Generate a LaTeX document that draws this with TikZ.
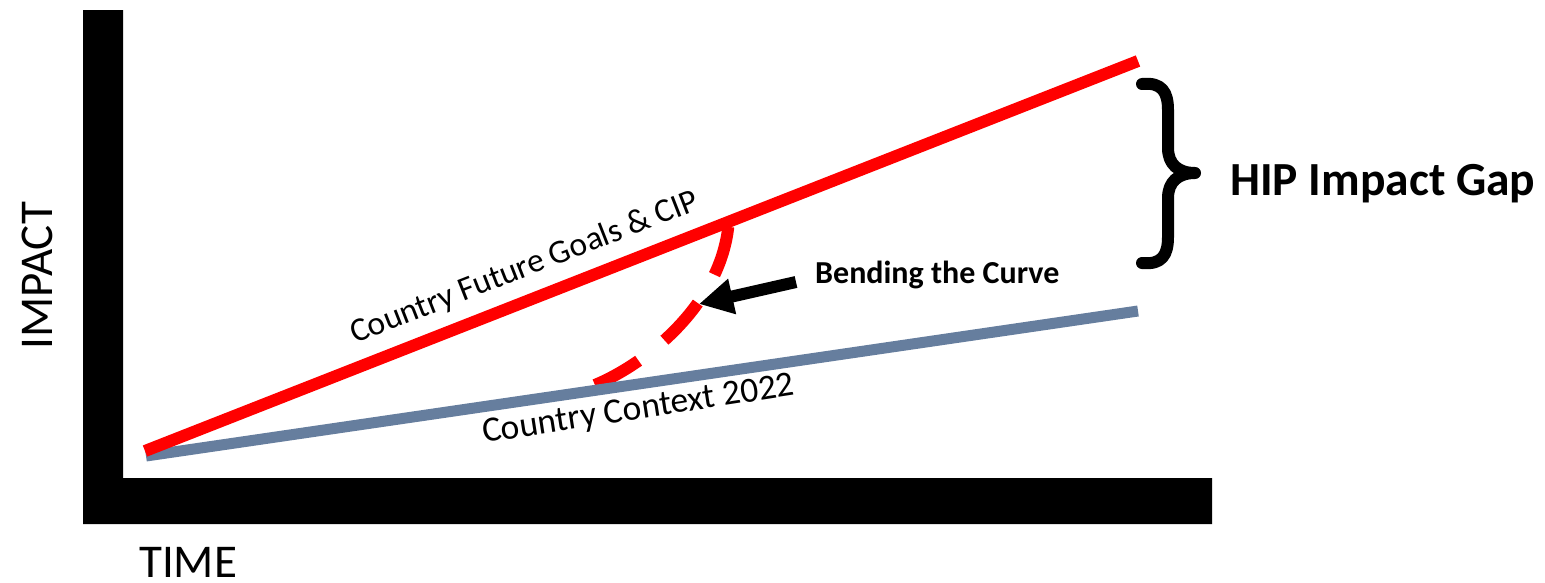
\documentclass[tikz,border=0pt]{standalone}
\usepackage{fontspec}
\setmainfont{Carlito}
\usetikzlibrary{arrows.meta}
\definecolor{goalred}{RGB}{255,0,0}
\definecolor{ctxgray}{RGB}{102,126,158}
\tikzset{
  axisbar/.style={fill=black},
  goalline/.style={draw=goalred, line width=12pt},
  ctxline/.style={draw=ctxgray, line width=11pt},
  bendline/.style={draw=goalred, line width=12pt, dash pattern=on 50pt off 33pt},
  bendarrow/.style={draw=black, line width=12pt, -{Triangle[length=34pt,width=34pt]}},
  bracepath/.style={draw=black, line width=12pt, line cap=round, line join=round},
  axislbl/.style={inner sep=0pt, font=\fontsize{47}{52}\selectfont},
  goalslbltxt/.style={inner sep=0pt, font=\fontsize{33.5}{38}\selectfont},
  ctxlbltxt/.style={inner sep=0pt, font=\fontsize{35.5}{40}\selectfont},
  bendlbltxt/.style={inner sep=0pt, font=\fontsize{32}{36}\selectfont\bfseries},
  gaplbltxt/.style={inner sep=0pt, font=\fontsize{47.5}{52}\selectfont\bfseries}
}
\begin{document}
\begin{tikzpicture}[x=1pt,y=-1pt]
\useasboundingbox (0,0) rectangle (1545,582);
% axes
\fill[axisbar] (83,10) -- (123,10) -- (123,478) -- (1212,478) -- (1212,524) -- (83,524) -- cycle;
% coordinates
\coordinate (b0) at (595,385);
\coordinate (b1) at (729,218);
\coordinate (g0) at (146,456);
\coordinate (g1) at (1138,311);
\coordinate (r0) at (145,451);
\coordinate (r1) at (1138,61);
\coordinate (ta) at (796,282);
\coordinate (th) at (699,304);
% bending curve (dashed)
\draw[bendline] (b0) .. controls (650,362) and (725,300) .. (b1);
% lines
\draw[ctxline] (g0) -- (g1);
\draw[goalline] (r0) -- (r1);
% arrow
\draw[bendarrow] (ta) -- (th);
% brace
\coordinate (brtop) at (1142,84);
\coordinate (brtip) at (1195,173);
\coordinate (brbot) at (1142,263);
\draw[bracepath] (brtop) .. controls (1162,82) and (1168,92) .. (1168,110)
  -- (1168,148) .. controls (1168,164) and (1178,173) .. (brtip)
  .. controls (1178,173) and (1168,182) .. (1168,198)
  -- (1168,237) .. controls (1168,255) and (1162,265) .. (brbot);
% labels
\node[axislbl, anchor=base west] (timelbl) at (139,577) {TIME};
\node[axislbl, anchor=base west, rotate=90] (impactlbl) at (52,350) {IMPACT};
\node[goalslbltxt, anchor=base west, rotate=21.4] (goalslbl) at (355,344) {Country Future Goals \& CIP};
\node[ctxlbltxt, anchor=base west, rotate=8.8] (contextlbl) at (484,443) {Country Context 2022};
\node[bendlbltxt, anchor=base west] (bendlbl) at (815,283) {Bending the Curve};
\node[gaplbltxt, anchor=base west] (gaplbl) at (1230,195) {HIP Impact Gap};
\end{tikzpicture}
\end{document}
